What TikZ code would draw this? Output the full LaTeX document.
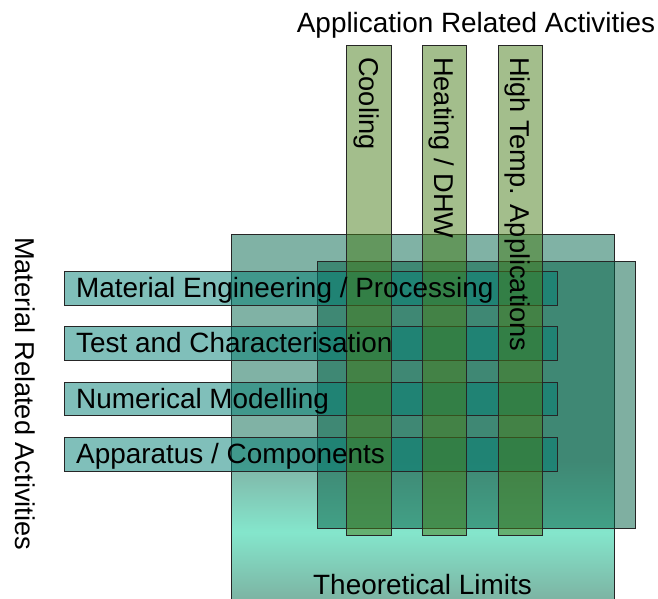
\documentclass[tikz,border=0pt]{standalone}
\usepackage{fontspec}
\setmainfont{Liberation Sans}
\usetikzlibrary{positioning}
\definecolor{limGrey}{RGB}{128,178,165}
\definecolor{limMint}{RGB}{132,230,204}
\definecolor{limLow}{RGB}{124,176,160}
\definecolor{panelC}{RGB}{0,95,68}
\definecolor{matC}{RGB}{2,127,117}
\definecolor{appC}{RGB}{71,125,25}

\tikzset{
  frame/.style={draw=black!85,line width=0.7pt},
  matbar/.style={frame,fill=matC,fill opacity=0.5,inner sep=0pt,anchor=north west,minimum width=493pt,minimum height=33.5pt},
  appbar/.style={frame,fill=appC,fill opacity=0.5,inner sep=0pt,anchor=north west,minimum width=44.5pt,minimum height=490pt},
  txt/.style={font=\fontsize{27.9}{33}\selectfont,inner sep=0pt},
  vtxt/.style={font=\fontsize{27.2}{33}\selectfont,inner sep=0pt,rotate=-90,anchor=base west},
}

\begin{document}
\begin{tikzpicture}[x=1pt,y=-1pt]
\useasboundingbox (0,0) rectangle (658,599);
\clip (0,0) rectangle (658,599);
% theoretical limits, fading to mint near the bottom
\fill[limGrey] (231,234) rectangle (614,460);
\shade[top color=limGrey,bottom color=limLow,middle color=limMint] (231,460) rectangle (614,604);
\node[frame,inner sep=0pt,anchor=north west,minimum width=383pt,minimum height=380pt] (limits) at (231,234) {};
% overlap panel
\node[frame,fill=panelC,fill opacity=0.5,inner sep=0pt,anchor=north west,minimum width=318pt,minimum height=267pt] (overlap) at (317,261) {};
% material related rows
\node[matbar] (matEng) at (64,271) {};
\node[matbar] (matTest) at (64,326) {};
\node[matbar] (matNum) at (64,381.5) {};
\node[matbar] (matApp) at (64,437) {};
% application related columns
\node[appbar] (cooling) at (346,45) {};
\node[appbar] (heating) at (421.5,45) {};
\node[appbar] (highTemp) at (497.5,45) {};
% texts
\node[txt,anchor=base] (appTitle) at (476,33) {Application Related Activities};
\node[vtxt] (matTitle) at (15,237) {Material Related Activities};
\node[txt,anchor=base] (limitsText) at (422.5,594) {Theoretical Limits};
\node[txt,anchor=base west] at ([xshift=12pt,yshift=-9.5pt]matEng.west) {Material Engineering / Processing};
\node[txt,anchor=base west] at ([xshift=12pt,yshift=-9.5pt]matTest.west) {Test and Characterisation};
\node[txt,anchor=base west] at ([xshift=12pt,yshift=-9.5pt]matNum.west) {Numerical Modelling};
\node[txt,anchor=base west] at ([xshift=12pt,yshift=-9.5pt]matApp.west) {Apparatus / Components};
\node[vtxt] at ([xshift=-9.5pt,yshift=-12pt]cooling.north) {Cooling};
\node[vtxt] at ([xshift=-9.5pt,yshift=-12pt]heating.north) {Heating / DHW};
\node[vtxt] at ([xshift=-9.5pt,yshift=-12pt]highTemp.north) {High Temp. Applications};
\end{tikzpicture}
\end{document}
